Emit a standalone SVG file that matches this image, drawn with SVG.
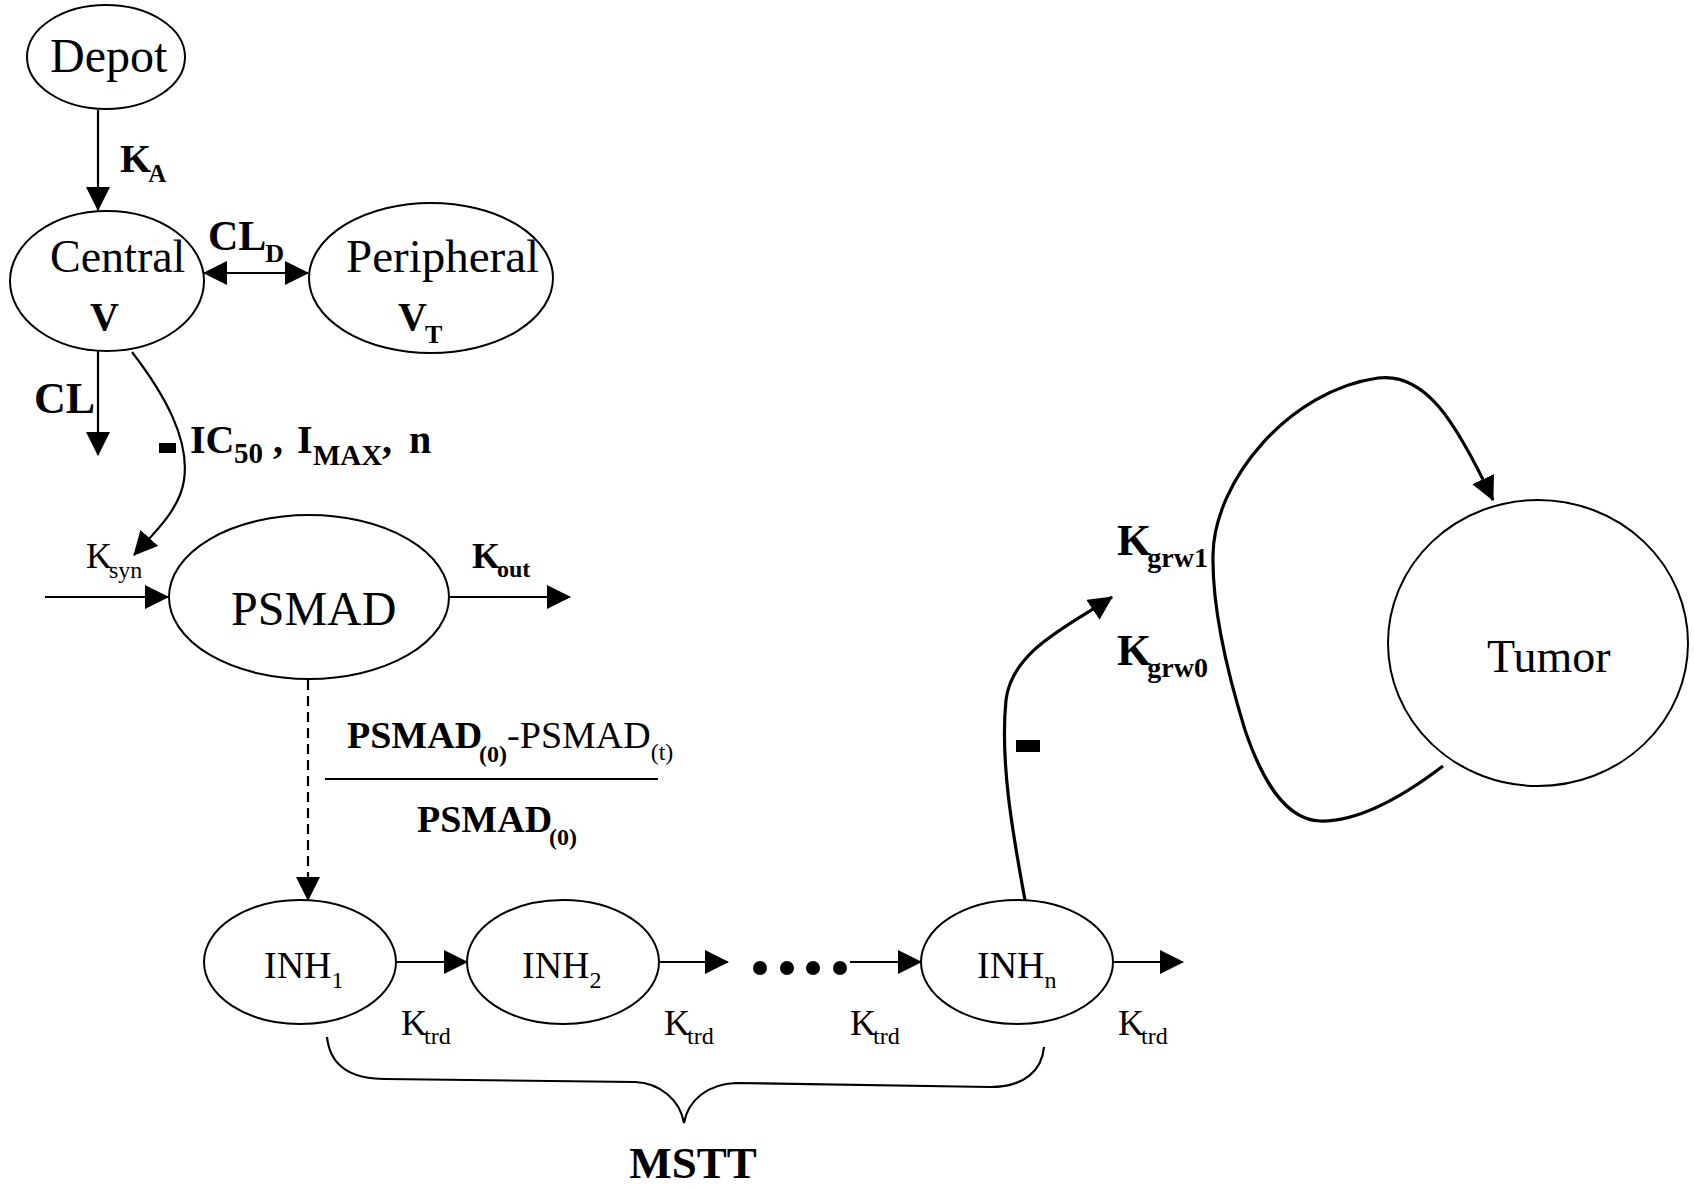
<svg xmlns="http://www.w3.org/2000/svg" width="1694" height="1189" viewBox="0 0 1694 1189">
<style>
text{font-family:"Liberation Serif","Times New Roman",serif;fill:#000}
.n{fill:#fff;stroke:#000;stroke-width:2}
.r{font-size:46px}
.b{font-weight:bold}
.ln{fill:none;stroke:#000;stroke-width:2.2}
.th{fill:none;stroke:#000;stroke-width:3.2}
</style>
<defs>
<marker id="ah" markerWidth="24" markerHeight="24" refX="23" refY="12" orient="auto-start-reverse" markerUnits="userSpaceOnUse"><path d="M0,0 L24,12 L0,24 z" fill="#000"/></marker>
</defs>
<rect width="1694" height="1189" fill="#fff"/>

<g id="connectors">
<line class="ln" x1="98" y1="110" x2="98" y2="210" marker-end="url(#ah)"/>
<line class="ln" x1="204" y1="273" x2="308" y2="273" marker-start="url(#ah)" marker-end="url(#ah)"/>
<line class="ln" x1="98" y1="351" x2="98" y2="455" marker-end="url(#ah)"/>
<path class="ln" d="M132,352 C165,395 190,440 184,480 C180,510 152,535 134,555" marker-end="url(#ah)"/>
<line class="ln" x1="45" y1="597" x2="168" y2="597" marker-end="url(#ah)"/>
<line class="ln" x1="449" y1="597" x2="570" y2="597" marker-end="url(#ah)"/>
<line class="ln" x1="308" y1="680" x2="308" y2="900" stroke-dasharray="10,6" marker-end="url(#ah)"/>
<line class="ln" x1="396" y1="962" x2="467" y2="962" marker-end="url(#ah)"/>
<line class="ln" x1="659" y1="962" x2="728" y2="962" marker-end="url(#ah)"/>
<line class="ln" x1="850" y1="962" x2="921" y2="962" marker-end="url(#ah)"/>
<line class="ln" x1="1113" y1="962" x2="1183" y2="962" marker-end="url(#ah)"/>
<path class="th" d="M1025,900 C1012,830 1000,760 1006,700 C1012,650 1070,625 1112,597" marker-end="url(#ah)"/>
<path class="th" d="M1443,766 C1405,795 1360,822 1320,821 C1285,820 1262,780 1245,730 C1228,675 1212,610 1213,555 C1214,480 1290,390 1378,378 C1425,372 1455,420 1493,500" marker-end="url(#ah)"/>
<path class="ln" d="M327,1037 C330,1065 350,1079 385,1079 L635,1082 C660,1083 680,1100 684,1123 C688,1100 708,1084 736,1083 L990,1087 C1025,1087 1042,1070 1044,1047"/>
</g>

<g id="depot"><ellipse class="n" cx="106" cy="57" rx="79" ry="52"/><text x="50" y="72" style="font-size:48px">Depot</text></g>
<g id="central"><ellipse class="n" cx="107" cy="281" rx="97" ry="70"/><text x="50" y="272" class="r">Central</text><text x="90" y="330" class="b" style="font-size:40px">V</text></g>
<g id="peripheral"><ellipse class="n" cx="431" cy="278" rx="122" ry="75"/><text x="346" y="272" style="font-size:47px">Peripheral</text><text x="398" y="330" class="b" style="font-size:40px">V<tspan dx="-2" y="343" style="font-size:26px">T</tspan></text></g>
<g id="psmad"><ellipse class="n" cx="309" cy="597" rx="140" ry="82"/><text x="231" y="625" style="font-size:48px">PSMAD</text></g>
<g id="inh1"><ellipse class="n" cx="300" cy="962" rx="96" ry="62"/><text x="264" y="978" style="font-size:38px">INH<tspan y="988" style="font-size:24px">1</tspan></text></g>
<g id="inh2"><ellipse class="n" cx="563" cy="962" rx="96" ry="62"/><text x="522" y="978" style="font-size:38px">INH<tspan y="988" style="font-size:24px">2</tspan></text></g>
<g id="inhn"><ellipse class="n" cx="1017" cy="962" rx="96" ry="62"/><text x="977" y="978" style="font-size:38px">INH<tspan y="988" style="font-size:24px">n</tspan></text></g>
<g id="tumor"><ellipse class="n" cx="1538" cy="643" rx="150" ry="143"/><text x="1487" y="672" class="r">Tumor</text></g>

<g id="labels">
<text x="120" y="172" class="b" style="font-size:40px">K<tspan dx="-3" y="182" style="font-size:25px">A</tspan></text>
<text x="208" y="250" class="b" style="font-size:42px">CL<tspan dx="-1" y="262" style="font-size:26px">D</tspan></text>
<text x="34" y="413" class="b" style="font-size:44px">CL</text>
<rect x="159" y="443" width="17" height="10" fill="#000"/>
<text y="453" class="b" style="font-size:40px"><tspan x="190">IC</tspan><tspan x="234" y="463" style="font-size:29px">50</tspan><tspan y="453"> , </tspan><tspan x="297">I</tspan><tspan x="313" y="465" style="font-size:29px">MAX</tspan><tspan x="382" y="453">,</tspan><tspan x="409">n</tspan></text>
<text x="86" y="568" style="font-size:36px">K<tspan dx="-3" y="578" style="font-size:24px">syn</tspan></text>
<text x="472" y="568" class="b" style="font-size:36px">K<tspan dx="-3" y="577" style="font-size:24px">out</tspan></text>
<text x="347" y="748" style="font-size:38px"><tspan class="b">PSMAD</tspan><tspan class="b" dx="-3" y="762" style="font-size:24px">(0)</tspan><tspan y="748">-PSMAD</tspan><tspan y="760" style="font-size:24px">(t)</tspan></text>
<line x1="325" y1="779" x2="658" y2="779" stroke="#000" stroke-width="2"/>
<text x="417" y="832" class="b" style="font-size:38px">PSMAD<tspan dx="-3" y="845" style="font-size:24px">(0)</tspan></text>
<circle cx="760" cy="968" r="7"/><circle cx="787" cy="968" r="7"/><circle cx="813" cy="968" r="7"/><circle cx="840" cy="968" r="7"/>
<text x="401" y="1035" style="font-size:36px">K<tspan dx="-3" y="1044" style="font-size:24px">trd</tspan></text>
<text x="664" y="1035" style="font-size:36px">K<tspan dx="-3" y="1044" style="font-size:24px">trd</tspan></text>
<text x="850" y="1035" style="font-size:36px">K<tspan dx="-3" y="1044" style="font-size:24px">trd</tspan></text>
<text x="1118" y="1035" style="font-size:36px">K<tspan dx="-3" y="1044" style="font-size:24px">trd</tspan></text>
<text x="693" y="1178" class="b" text-anchor="middle" style="font-size:45px">MSTT</text>
<rect x="1016" y="740" width="24" height="12" fill="#000"/>
<text x="1117" y="555" class="b" style="font-size:44px">K<tspan dx="-4" y="567" style="font-size:28px">grw1</tspan></text>
<text x="1117" y="665" class="b" style="font-size:44px">K<tspan dx="-4" y="677" style="font-size:28px">grw0</tspan></text>
</g>
</svg>
